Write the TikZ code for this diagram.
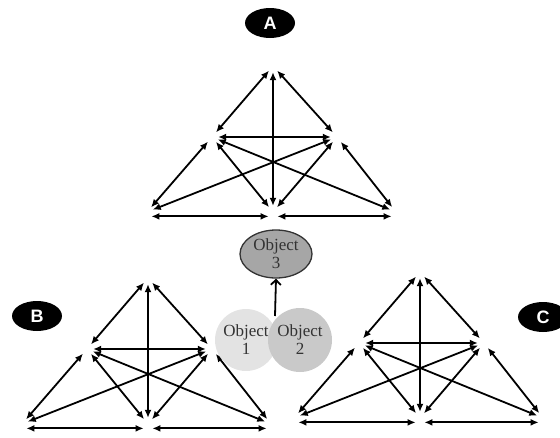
\documentclass[tikz,border=0pt]{standalone}
\usepackage{fontspec}
\setmainfont{Liberation Serif}
\setsansfont{Liberation Sans}
\usetikzlibrary{arrows.meta,shapes.geometric}

\begin{document}
\begin{tikzpicture}[
  x=1pt, y=-1pt,
  pt/.style={circle, inner sep=0pt, minimum size=12pt},
  link/.style={{Latex[length=8pt,width=7pt]}-{Latex[length=8pt,width=7pt]}, line width=1.8pt},
  tag/.style={ellipse, fill=black, text=white, inner sep=0pt,
    minimum width=50pt, minimum height=30pt, font=\sffamily\bfseries\fontsize{18}{18}\selectfont},
  obj/.style={circle, inner sep=0pt, minimum size=62pt, text=black!80,
    align=center, font=\fontsize{17}{18}\selectfont},
  objarr/.style={-{Straight Barb[length=5pt,width=10pt]}, line width=1.8pt}
]
\useasboundingbox (0,0) rectangle (560,437);

% Labels
\node[tag] (tagA) at (270,23) {A};
\node[tag] (tagB) at (37,316) {B};
\node[tag] (tagC) at (543,317) {C};

% Triangles
\foreach \t/\x/\y in {A/273/66, B/148/278, C/420/272} {
  \begin{scope}[shift={(\x,\y)}]
    \node[pt] (\t-top) at (0,0) {};
    \node[pt] (\t-l) at (-61,71) {};
    \node[pt] (\t-r) at (64,71) {};
    \node[pt] (\t-bl) at (-126,146) {};
    \node[pt] (\t-bm) at (0,146) {};
    \node[pt] (\t-br) at (123,146) {};
  \end{scope}
  \draw[link] (\t-top) -- (\t-l);
  \draw[link] (\t-top) -- (\t-r);
  \draw[link] (\t-top) -- (\t-bm);
  \draw[link] (\t-l) -- (\t-r);
  \draw[link] (\t-l) -- (\t-bl);
  \draw[link] (\t-r) -- (\t-br);
  \draw[link] (\t-l) -- (\t-bm);
  \draw[link] (\t-r) -- (\t-bm);
  \draw[link] (\t-l) -- (\t-br);
  \draw[link] (\t-r) -- (\t-bl);
  \draw[link] (\t-bl.south east) -- (\t-bm.south west);
  \draw[link] (\t-bm.south east) -- (\t-br.south west);
}

% Objects
\node[obj, fill=black!11] (obj1) at (246,340) {Object\\1};
\node[obj, fill=black!21, minimum size=64pt] (obj2) at (300,340) {Object\\2};
\node[ellipse, draw=black!80, line width=1.3pt, fill=black!35, text=black!80,
  inner sep=0pt, minimum width=72pt, minimum height=48pt, align=center,
  font=\fontsize{17}{18}\selectfont] (obj3) at (276,254) {Object\\3};
\coordinate (meet) at (275,316);
\draw[objarr] (meet) -- (obj3.south);

\end{tikzpicture}
\end{document}
